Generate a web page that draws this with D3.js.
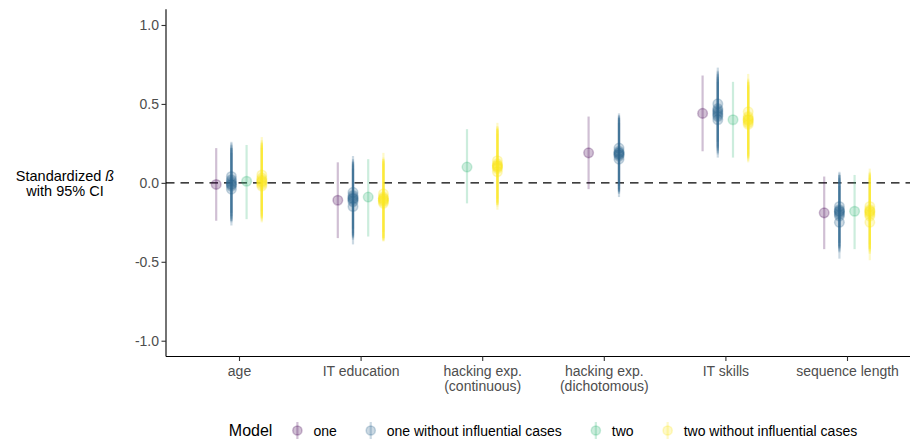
<!DOCTYPE html>
<html>
<head>
<meta charset="utf-8">
<script src="https://cdn.jsdelivr.net/npm/d3@7"></script>
<style>
  html, body { margin: 0; padding: 0; background: #fff; }
  svg { display: block; font-family: "Liberation Sans", Arial, sans-serif; }
</style>
</head>
<body>
<svg id="chart" width="910" height="443"></svg>
<script>
// Predictors on the x axis (line breaks split long labels)
const categories = [
  "age",
  "IT education",
  "hacking exp.\n(continuous)",
  "hacking exp.\n(dichotomous)",
  "IT skills",
  "sequence length"
];

const models = ["one", "one without influential cases", "two", "two without influential cases"];
const modelColors = ["#440154", "#31688E", "#35B779", "#FDE725"];
const yTicks = [-1.0, -0.5, 0.0, 0.5, 1.0];

// Full-sample models: [estimate, lower 95%, upper 95%] per predictor; null = not in model
const oneFull = [
  [-0.01, -0.24, 0.22],
  [-0.11, -0.35, 0.13],
  null,
  [0.19, -0.04, 0.42],
  [0.44, 0.20, 0.68],
  [-0.19, -0.42, 0.04]
];
const twoFull = [
  [0.01, -0.23, 0.24],
  [-0.09, -0.34, 0.15],
  [0.10, -0.13, 0.34],
  null,
  [0.40, 0.16, 0.64],
  [-0.18, -0.42, 0.05]
];

// Refits leaving out one influential case at a time: [estimate, lower, upper]
const oneWithout = [
  [[0.04, -0.19, 0.26], [0.02, -0.21, 0.25], [0.01, -0.22, 0.24], [0.00, -0.23, 0.23],
   [-0.01, -0.24, 0.22], [-0.01, -0.24, 0.22], [-0.02, -0.25, 0.21], [-0.04, -0.27, 0.19]],
  [[-0.06, -0.29, 0.17], [-0.08, -0.32, 0.15], [-0.09, -0.33, 0.14], [-0.10, -0.34, 0.13],
   [-0.10, -0.34, 0.13], [-0.11, -0.35, 0.12], [-0.12, -0.36, 0.11], [-0.15, -0.39, 0.09]],
  null,
  [[0.22, -0.02, 0.44], [0.20, -0.04, 0.43], [0.19, -0.05, 0.42], [0.19, -0.05, 0.42],
   [0.18, -0.06, 0.41], [0.18, -0.06, 0.41], [0.17, -0.07, 0.40], [0.15, -0.09, 0.38]],
  [[0.50, 0.26, 0.73], [0.47, 0.23, 0.71], [0.46, 0.22, 0.70], [0.45, 0.21, 0.69],
   [0.44, 0.20, 0.68], [0.43, 0.19, 0.67], [0.42, 0.18, 0.66], [0.40, 0.16, 0.64]],
  [[-0.15, -0.38, 0.07], [-0.17, -0.40, 0.06], [-0.18, -0.41, 0.05], [-0.18, -0.41, 0.05],
   [-0.19, -0.42, 0.04], [-0.20, -0.43, 0.03], [-0.21, -0.44, 0.02], [-0.25, -0.48, -0.02]]
];
const twoWithout = [
  [[0.05, -0.18, 0.29], [0.03, -0.20, 0.27], [0.02, -0.21, 0.26], [0.01, -0.22, 0.25],
   [0.01, -0.22, 0.25], [0.00, -0.23, 0.24], [-0.01, -0.24, 0.23], [-0.02, -0.25, 0.22]],
  [[-0.07, -0.31, 0.19], [-0.09, -0.34, 0.16], [-0.10, -0.35, 0.15], [-0.10, -0.35, 0.15],
   [-0.11, -0.36, 0.14], [-0.11, -0.36, 0.14], [-0.12, -0.37, 0.13], [-0.13, -0.37, 0.12]],
  [[0.14, -0.10, 0.38], [0.12, -0.12, 0.36], [0.11, -0.13, 0.35], [0.11, -0.13, 0.35],
   [0.10, -0.14, 0.34], [0.10, -0.14, 0.34], [0.09, -0.15, 0.33], [0.07, -0.17, 0.31]],
  null,
  [[0.45, 0.21, 0.69], [0.42, 0.18, 0.66], [0.41, 0.17, 0.65], [0.40, 0.16, 0.64],
   [0.40, 0.16, 0.64], [0.39, 0.15, 0.63], [0.38, 0.14, 0.62], [0.37, 0.13, 0.61]],
  [[-0.15, -0.39, 0.09], [-0.17, -0.41, 0.07], [-0.18, -0.42, 0.06], [-0.18, -0.42, 0.06],
   [-0.19, -0.43, 0.05], [-0.20, -0.44, 0.04], [-0.21, -0.45, 0.03], [-0.25, -0.49, -0.01]]
];

const seriesByModel = [
  oneFull.map(d => d && [d]),
  oneWithout,
  twoFull.map(d => d && [d]),
  twoWithout
];

// ---- layout ----
const svg = d3.select("#chart");
const panel = { left: 166, right: 920, top: 9.2, bottom: 356.5 };
const alpha = 0.25;

const x = d3.scalePoint().domain(categories).range([239, 847]);
const step = x.step();
const dodgeWidth = 0.5 * step;
const y = d3.scaleLinear().domain([-1.1, 1.1]).range([panel.bottom, panel.top]);
const color = d3.scaleOrdinal().domain(models).range(modelColors);

// Flatten into one record per estimate, dodged by the models present in each category
const records = [];
categories.forEach((cat, ci) => {
  const present = models.filter((m, mi) => seriesByModel[mi][ci]);
  const n = present.length;
  present.forEach((m, k) => {
    const mi = models.indexOf(m);
    const offset = (k - (n - 1) / 2) * (dodgeWidth / n);
    seriesByModel[mi][ci].forEach(([est, lo, hi]) => {
      records.push({ cat, model: m, xpos: x(cat) + offset, est, lo, hi });
    });
  });
});

// Reference line at zero
svg.append("line")
  .attr("x1", panel.left).attr("x2", panel.right)
  .attr("y1", y(0)).attr("y2", y(0))
  .attr("stroke", "#000").attr("stroke-width", 1.4)
  .attr("stroke-dasharray", "8.5,6");

// Confidence intervals
svg.append("g").selectAll("line")
  .data(records).join("line")
  .attr("x1", d => d.xpos).attr("x2", d => d.xpos)
  .attr("y1", d => y(d.lo)).attr("y2", d => y(d.hi))
  .attr("stroke", d => color(d.model))
  .attr("stroke-opacity", alpha)
  .attr("stroke-width", 2.2);

// Point estimates
svg.append("g").selectAll("circle")
  .data(records).join("circle")
  .attr("cx", d => d.xpos).attr("cy", d => y(d.est))
  .attr("r", 4.8)
  .attr("fill", d => color(d.model)).attr("fill-opacity", alpha)
  .attr("stroke", d => color(d.model)).attr("stroke-opacity", alpha)
  .attr("stroke-width", 1.5);

// ---- axes ----
const yAxis = svg.append("g")
  .attr("transform", `translate(${panel.left},0)`)
  .call(d3.axisLeft(y).tickValues(yTicks).tickFormat(d => d.toFixed(1)).tickSize(4.5).tickPadding(2.5));
yAxis.select(".domain").attr("d", `M0,${panel.top}V${panel.bottom}`);

const xAxis = svg.append("g")
  .attr("transform", `translate(0,${panel.bottom})`)
  .call(d3.axisBottom(x).tickSize(4.5).tickFormat(""));
xAxis.select(".domain").attr("d", `M${panel.left},0H${panel.right}`);

[yAxis, xAxis].forEach(g => {
  g.select(".domain").attr("stroke", "#000").attr("stroke-width", 1.1);
  g.selectAll(".tick line").attr("stroke", "#333").attr("stroke-width", 1.1);
});
yAxis.selectAll(".tick text")
  .attr("font-size", 14).attr("fill", "#4D4D4D")
  .attr("font-family", "Liberation Sans, Arial, sans-serif");

// Multi-line category labels
xAxis.selectAll(".tick").each(function (d) {
  const t = d3.select(this).append("text")
    .attr("text-anchor", "middle")
    .attr("font-size", 14).attr("fill", "#4D4D4D")
    .attr("font-family", "Liberation Sans, Arial, sans-serif");
  d.split("\n").forEach((line, i) => {
    t.append("tspan").attr("x", 0).attr("y", 19 + i * 15).text(line);
  });
});

// Y axis title, two lines
const yTitleLines = [["Standardized ", "ß"], ["with 95% CI"]];
yTitleLines.forEach((parts, i) => {
  const t = svg.append("text")
    .attr("x", 65).attr("y", 180.5 + i * 15)
    .attr("text-anchor", "middle").attr("font-size", 14.5).attr("fill", "#000");
  t.append("tspan").text(parts[0]);
  if (parts[1]) t.append("tspan").attr("font-style", "italic").text(parts[1]);
});

// ---- legend ----
const legend = svg.append("g");
const legendY = 436;
const keyY = 430.5;
const title = legend.append("text")
  .attr("y", legendY).attr("font-size", 16).attr("fill", "#000").text("Model");
let cursor = title.node().getComputedTextLength() + 25;
models.forEach((m, i) => {
  const g = legend.append("g");
  g.append("line")
    .attr("x1", cursor).attr("x2", cursor)
    .attr("y1", keyY - 8.5).attr("y2", keyY + 8.5)
    .attr("stroke", color(m)).attr("stroke-opacity", alpha).attr("stroke-width", 2.2);
  g.append("circle")
    .attr("cx", cursor).attr("cy", keyY).attr("r", 4.6)
    .attr("fill", color(m)).attr("fill-opacity", alpha)
    .attr("stroke", color(m)).attr("stroke-opacity", alpha).attr("stroke-width", 1.5);
  const label = g.append("text")
    .attr("x", cursor + 16).attr("y", legendY)
    .attr("font-size", 14).attr("fill", "#000").text(m);
  cursor += 16 + label.node().getComputedTextLength();
  if (i < models.length - 1) cursor += 34;
});
// centre the legend on the panel
const panelCentre = (panel.left + panel.right) / 2;
legend.attr("transform", `translate(${panelCentre - cursor / 2},0)`);
</script>
</body>
</html>
